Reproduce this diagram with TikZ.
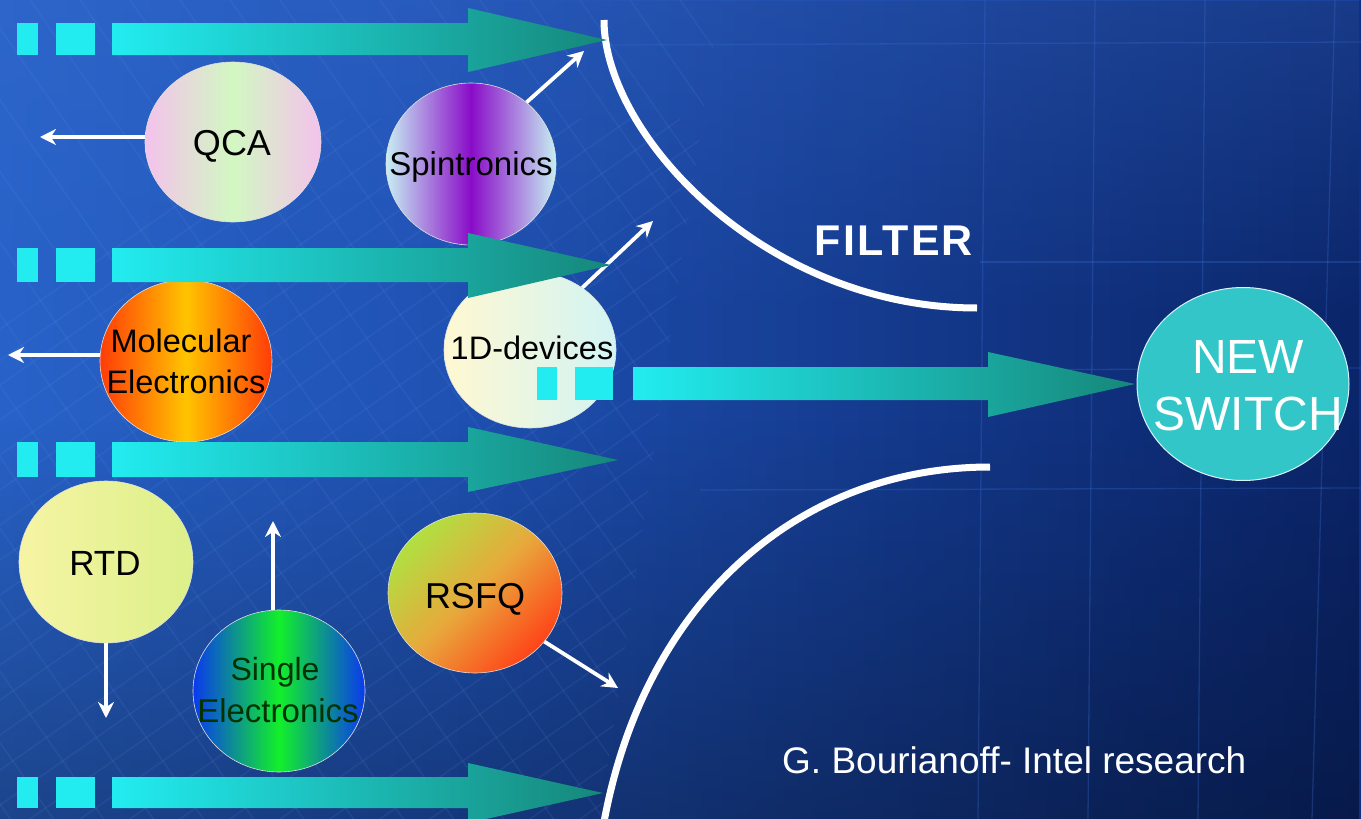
\documentclass[tikz,border=0pt]{standalone}
\usepackage{fontspec}
\setmainfont{Liberation Sans}
\usetikzlibrary{shapes.geometric,arrows.meta,fadings}
\definecolor{bgL}{HTML}{2862C8}
\definecolor{bgM}{HTML}{1A4CAE}
\definecolor{bgR}{HTML}{0E3088}
\definecolor{cyanA}{HTML}{22ECF0}
\definecolor{tealA}{HTML}{16877A}
\definecolor{swc}{HTML}{33C6C8}
\definecolor{texc}{HTML}{6C9CF0}
\definecolor{globec}{HTML}{3A6ED0}
\definecolor{qcaP}{HTML}{F4C2EC}
\definecolor{qcaG}{HTML}{D2F8C2}
\definecolor{spinC}{HTML}{C6EEF2}
\definecolor{spinV}{HTML}{8A0CC8}
\definecolor{molR}{HTML}{FF3C08}
\definecolor{molY}{HTML}{FFC400}
\definecolor{onedY}{HTML}{FFF8D2}
\definecolor{onedC}{HTML}{D2F4F4}
\definecolor{rtdY}{HTML}{F6F4A4}
\definecolor{rtdG}{HTML}{DCF08A}
\definecolor{sinB}{HTML}{0A3AEE}
\definecolor{sinG}{HTML}{12F02A}
\definecolor{rsfqG}{HTML}{B0E040}
\definecolor{rsfqO}{HTML}{E8A83C}
\definecolor{rsfqR}{HTML}{FF4418}
\begin{document}
\begin{tikzpicture}[x=1pt,y=-1pt,
  blob/.style={ellipse, inner sep=0pt, draw=white!75!gray, line width=0.6pt},
  lab/.style={anchor=base, text=black, inner sep=0pt},
  warr/.style={draw=white, line width=3.8pt, -{Stealth[length=16pt,width=16pt]}},
  bigarrow/.style={left color=cyanA, right color=tealA},
  sqr/.style={fill=cyanA},
  filt/.style={draw=white, line width=7pt},
  tex/.style={draw=texc, opacity=0.10, line width=1.6pt},
  globe/.style={draw=globec, opacity=0.30, line width=1.3pt}
]
\useasboundingbox (0,0) rectangle (1361,819);
\clip (0,0) rectangle (1361,819);
% background
\fill[left color=bgL, middle color=bgM, right color=bgR] (0,0) rectangle (1361,819);
\fill[black, opacity=0.30, path fading=north] (0,420) rectangle (1361,819);
\fill[black, opacity=0.22, path fading=west] (450,0) rectangle (1361,819);
\fill[globec, opacity=0.30, path fading=south] (0,0) rectangle (1361,320);
% chip texture on the left
\begin{scope}
\clip (0,0) -- (720,0) -- (600,819) -- (0,819) -- cycle;
\foreach \k in {-700,-655,-620,-570,...,1500} \draw[tex] (\k,819) -- ++(1000,-700);
\foreach \k in {-600,-563,-520,-470,...,1000} \draw[tex] (\k,0) -- ++(600,857);
\end{scope}
% globe lines
\draw[globe] (600,45) -- (1361,42);
\draw[globe] (980,262) -- (1361,262);
\draw[globe] (1000,370) -- (1361,368);
\draw[globe] (700,490) -- (1361,488);
\draw[globe] (985,0) -- (978,819);
\draw[globe] (1095,0) -- (1088,819);
\draw[globe] (1205,0) -- (1198,819);
\draw[globe] (1335,0) -- (1312,819);
% filter
\draw[filt] (604,20) .. controls (604,135) and (765,308) .. (977,308);
\draw[filt] (990,467) .. controls (800,467) and (645,600) .. (604,822);
% ellipses
\node[blob, minimum width=176pt, minimum height=160pt, left color=qcaP, right color=qcaP, middle color=qcaG] (qca) at (233,142) {};
\node[blob, minimum width=170pt, minimum height=162pt, left color=spinC, right color=spinC, middle color=spinV] (spin) at (471,164) {};
\node[blob, minimum width=172pt, minimum height=162pt, left color=molR, right color=molR, middle color=molY] (mol) at (186,361) {};
\node[blob, minimum width=172pt, minimum height=156pt, left color=onedY, right color=onedC] (oned) at (530,350) {};
\node[blob, minimum width=174pt, minimum height=162pt, left color=rtdY, right color=rtdG] (rtd) at (106,562) {};
\node[blob, minimum width=172pt, minimum height=162pt, left color=sinB, right color=sinB, middle color=sinG] (sing) at (279,691) {};
\node[blob, minimum width=174pt, minimum height=160pt, top color=rsfqG, bottom color=rsfqR, middle color=rsfqO, shading angle=45] (rsfq) at (475,593) {};
% end points of the white arrows
\coordinate (qcaE) at (40,137);
\coordinate (spinE) at (584,51);
\coordinate (molE) at (8,355);
\coordinate (onedE) at (653,221);
\coordinate (rtdE) at (106,718);
\coordinate (singE) at (273,521);
\coordinate (rsfqE) at (618,688);
\draw[warr] (qca.west |- qcaE) -- (qcaE);
\draw[warr] (spin.48) -- (spinE);
\draw[warr] (mol.west |- molE) -- (molE);
\draw[warr] (oned.50) -- (onedE);
\draw[warr] (rtd.south) -- (rtdE);
\draw[warr] (singE |- sing.north) -- (singE);
\draw[warr] (rsfq.-35) -- (rsfqE);
% big arrows
\fill[sqr] (17,23) rectangle (38,55);
\fill[sqr] (56,23) rectangle (95,55);
\path[bigarrow] (112,23) -- (468,23) -- (468,8) -- (607,40) -- (468,72) -- (468,55) -- (112,55) -- cycle;
\fill[sqr] (17,248) rectangle (38,282);
\fill[sqr] (56,248) rectangle (95,282);
\path[bigarrow] (112,248) -- (468,248) -- (468,233) -- (611,265) -- (468,298) -- (468,282) -- (112,282) -- cycle;
\fill[sqr] (17,442) rectangle (38,477);
\fill[sqr] (56,442) rectangle (95,477);
\path[bigarrow] (112,442) -- (468,442) -- (468,427) -- (618,460) -- (468,492) -- (468,477) -- (112,477) -- cycle;
\fill[sqr] (17,777) rectangle (38,808);
\fill[sqr] (56,777) rectangle (95,808);
\path[bigarrow] (112,777) -- (468,777) -- (468,763) -- (603,793) -- (468,823) -- (468,808) -- (112,808) -- cycle;
\fill[sqr] (537,367) rectangle (557,400);
\fill[sqr] (575,367) rectangle (613,400);
\path[bigarrow] (633,367) -- (988,367) -- (988,352) -- (1135,384) -- (988,417) -- (988,400) -- (633,400) -- cycle;
% new switch
\node[ellipse, inner sep=0pt, minimum width=212pt, minimum height=193pt, fill=swc, draw=white!85!cyan, line width=1pt] (sw) at (1243,384) {};
% labels
\node[lab, font=\fontsize{36}{40}\selectfont] (tqca) at (232,155) {QCA};
\node[lab, font=\fontsize{33}{38}\selectfont] (tspin) at (471,175) {Spintronics};
\node[lab, font=\fontsize{32.5}{38}\selectfont] (tmol1) at (181,352) {Molecular};
\node[lab, font=\fontsize{32.5}{38}\selectfont] (tmol2) at (186,393) {Electronics};
\node[lab, font=\fontsize{32.5}{38}\selectfont] (toned) at (532,359) {1D-devices};
\node[lab, font=\fontsize{35}{40}\selectfont] (trtd) at (105,575) {RTD};
\node[lab, font=\fontsize{36}{40}\selectfont] (trsfq) at (475,608) {RSFQ};
\node[lab, font=\fontsize{32}{38}\selectfont, text=black!80!green] (tsing1) at (275,680) {Single};
\node[lab, font=\fontsize{33}{38}\selectfont, text=black!80!green] (tsing2) at (278,722) {Electronics};
\node[lab, font=\fontsize{48}{56}\selectfont, text=white] (tnew) at (1248,373) {NEW};
\node[lab, font=\fontsize{48}{56}\selectfont, text=white] (tswitch) at (1248,430) {SWITCH};
\node[lab, font=\fontsize{43}{48}\selectfont\bfseries\addfontfeature{LetterSpace=5}, text=white] (tfilter) at (894,255) {FILTER};
\node[anchor=base west, inner sep=0pt, font=\fontsize{37}{42}\selectfont, text=white] (tauthor) at (782,773) {G. Bourianoff- Intel research};
\end{tikzpicture}
\end{document}
